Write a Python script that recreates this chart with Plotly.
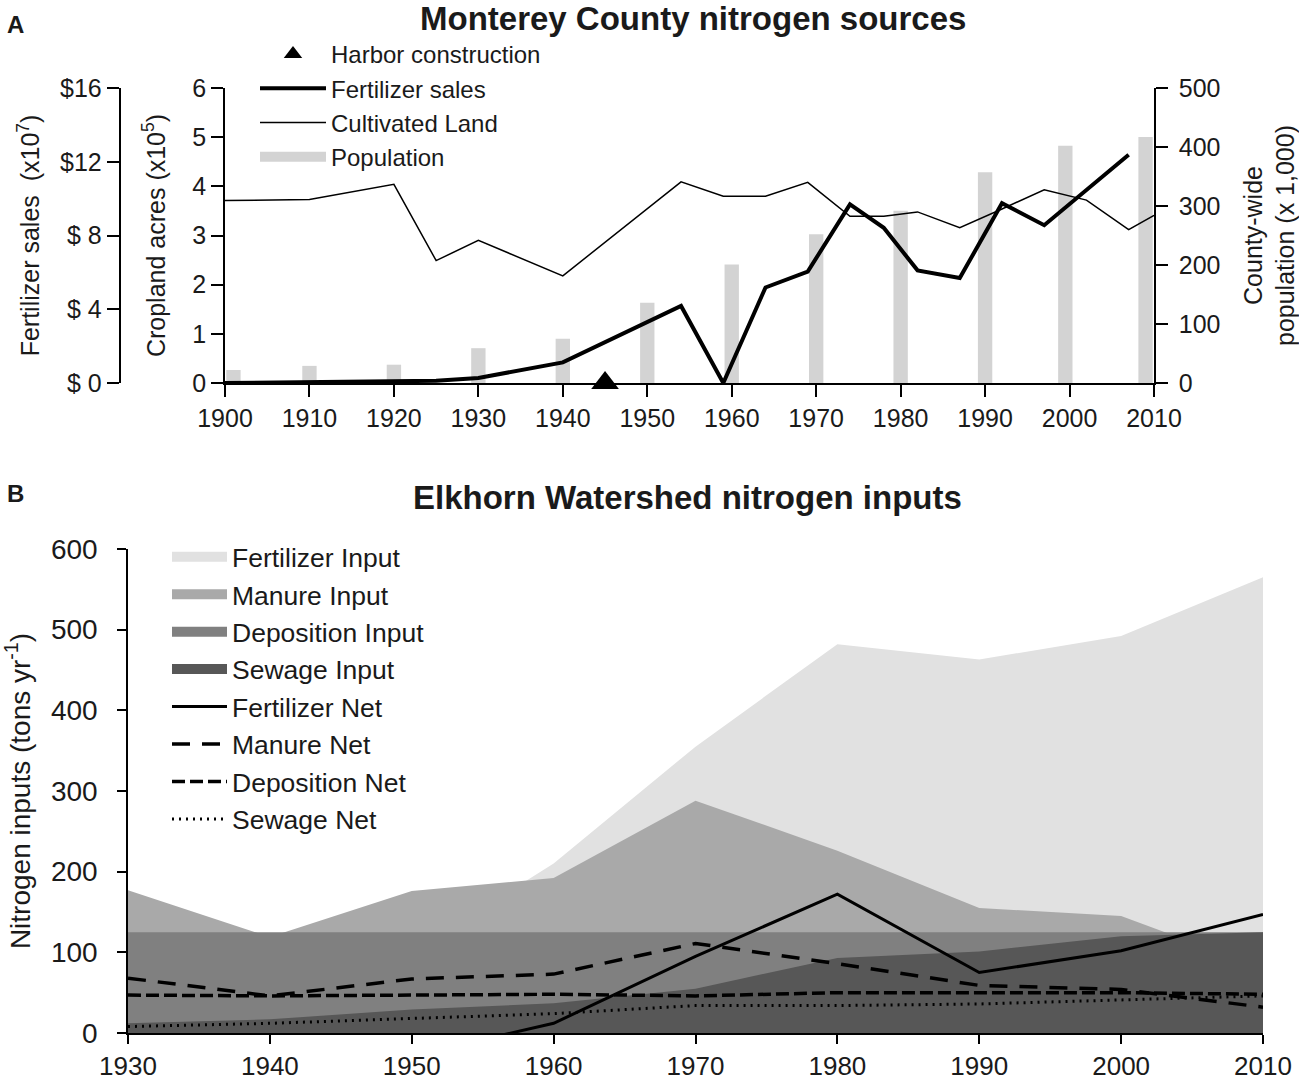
import plotly.graph_objects as go

# ---------------- panel A : Monterey County ----------------
pop_years = [1901, 1910, 1920, 1930, 1940, 1950, 1960, 1970, 1980, 1990, 1999.5, 2009]
population = [22, 29, 31, 59, 75, 136, 201, 252, 292, 357, 402, 417]  # x 1,000

crop_years = [1900, 1910, 1920, 1925, 1930, 1940, 1954, 1959, 1964, 1969, 1974,
              1978, 1982, 1987, 1992, 1997, 2002, 2007, 2010]
cropland = [3.71, 3.73, 4.04, 2.49, 2.90, 2.18, 4.09, 3.80, 3.80, 4.08, 3.39,
            3.39, 3.48, 3.16, 3.54, 3.93, 3.72, 3.12, 3.41]  # acres x 1e5

fert_years = [1900, 1910, 1920, 1925, 1930, 1940, 1954, 1959, 1964, 1969, 1974,
              1978, 1982, 1987, 1992, 1997, 2007]
fert_sales = [0.0, 0.05, 0.1, 0.12, 0.27, 1.12, 4.18, 0.0, 5.18, 6.04, 9.69,
              8.42, 6.11, 5.69, 9.75, 8.56, 12.38]  # $ x 1e7

harbor_year = [1945]
harbor_y = [0]

# ---------------- panel B : Elkhorn Watershed ----------------
years_b = [1930, 1940, 1950, 1960, 1970, 1980, 1990, 2000, 2010]
fert_input = [10, 30, 100, 210, 355, 482, 463, 492, 565]
manure_input = [177, 119, 176, 192, 288, 226, 155, 145, 80]
deposition_input = [125, 125, 125, 125, 125, 125, 125, 125, 125]
sewage_input = [12, 17, 29, 37, 55, 93, 101, 120, 125]
fert_net = [-60, -45, -28, 12, 95, 172, 75, 102, 147]
manure_net = [68, 46, 67, 73, 111, 86, 59, 54, 32]
deposition_net = [47, 46, 47, 48, 46, 50, 50, 50, 48]
sewage_net = [8, 12, 18, 24, 34, 34, 36, 41, 46]

FONT = "Liberation Sans, Arial, Helvetica, sans-serif"
INK = "#1a1a1a"
W, H = 1299, 1080

def px_x(p):
    return p / W

def px_y(p):
    return 1 - p / H

fig = go.Figure()

# population bars (base axis, drawn underneath)
fig.add_trace(go.Bar(x=pop_years, y=population, width=1.7,
                     marker=dict(color="#d3d3d3", line=dict(width=0)),
                     showlegend=False, xaxis="x", yaxis="y"))

fig.add_trace(go.Scatter(x=harbor_year, y=harbor_y, mode="markers", name="Harbor construction",
                         marker=dict(symbol="triangle-up", size=24, color="black"),
                         cliponaxis=False, xaxis="x", yaxis="y2",
                         legend="legend", legendgroup="a1"))
fig.add_trace(go.Scatter(x=fert_years, y=fert_sales, mode="lines", name="Fertilizer sales",
                         line=dict(color="black", width=4),
                         xaxis="x", yaxis="y3", legend="legend", legendgroup="a2"))
fig.add_trace(go.Scatter(x=crop_years, y=cropland, mode="lines", name="Cultivated Land",
                         line=dict(color="black", width=1.5),
                         xaxis="x", yaxis="y2", legend="legend", legendgroup="a3"))
# legend swatch for the population bars
fig.add_trace(go.Scatter(x=[None], y=[None], mode="lines", name="Population",
                         line=dict(color="#d3d3d3", width=15),
                         xaxis="x", yaxis="y", legend="legend", legendgroup="a4"))

# panel B areas (overlapping, each filled to zero)
areas = [("Fertilizer Input", fert_input, "#e1e1e1"),
         ("Manure Input", manure_input, "#a9a9a9"),
         ("Deposition Input", deposition_input, "#808080"),
         ("Sewage Input", sewage_input, "#575757")]
for i, (nm, vals, col) in enumerate(areas):
    fig.add_trace(go.Scatter(x=years_b, y=vals, mode="lines", fill="tozeroy",
                             fillcolor=col, line=dict(width=0, color=col),
                             showlegend=False, xaxis="x2", yaxis="y4"))
for i, (nm, vals, col) in enumerate(areas):
    fig.add_trace(go.Scatter(x=[None], y=[None], mode="lines", name=nm,
                             line=dict(color=col, width=10),
                             xaxis="x2", yaxis="y4", legend="legend2", legendgroup="b%d" % i))

nets = [("Fertilizer Net", fert_net, "solid", 3),
        ("Manure Net", manure_net, "18px,12px", 3.5),
        ("Deposition Net", deposition_net, "13px,5px", 3.5),
        ("Sewage Net", sewage_net, "2px,5px", 3)]
for i, (nm, vals, dash, w) in enumerate(nets):
    fig.add_trace(go.Scatter(x=years_b, y=vals, mode="lines", name=nm,
                             line=dict(color="black", width=w, dash=dash),
                             xaxis="x2", yaxis="y4", legend="legend2", legendgroup="n%d" % i))

axis_common = dict(showline=True, linecolor="black", linewidth=1.5, ticks="outside",
                   tickcolor="black", tickwidth=1.5, showgrid=False, zeroline=False,
                   automargin=False, tickfont=dict(size=25, color=INK))

fig.update_layout(
    width=W, height=H,
    margin=dict(l=0, r=0, t=0, b=0, autoexpand=False),
    paper_bgcolor="white", plot_bgcolor="white",
    font=dict(family=FONT, color=INK),
    barmode="overlay",
    xaxis=dict(axis_common, domain=[px_x(225), px_x(1154)], range=[1900, 2010],
               tickvals=list(range(1900, 2011, 10)), ticklen=12, anchor="y"),
    yaxis=dict(axis_common, domain=[px_y(383), px_y(88)], range=[0, 500], side="right",
               tickvals=list(range(0, 501, 100)), ticklen=12, anchor="x", ticklabelstandoff=6,
               title=dict(text="County-wide<br>population (x 1,000)", font=dict(size=25), standoff=30)),
    yaxis2=dict(axis_common, range=[0, 6], overlaying="y", side="left", anchor="x",
                tickvals=list(range(0, 7)), ticklen=12,
                title=dict(text="Cropland acres (x10<sup>5</sup>)", font=dict(size=25), standoff=20)),
    yaxis3=dict(axis_common, range=[0, 16], overlaying="y", side="left", anchor="free",
                position=px_x(119.5), tickvals=[0, 4, 8, 12, 16],
                ticktext=["$ 0", "$ 4", "$ 8", "$12", "$16"], ticklen=12,
                title=dict(text="Fertilizer sales  (x10<sup>7</sup>)", font=dict(size=25), standoff=12)),
    xaxis2=dict(axis_common, domain=[px_x(128), px_x(1263)], range=[1930, 2010],
                tickvals=list(range(1930, 2011, 10)), ticklen=9, anchor="y4",
                tickfont=dict(size=26, color=INK)),
    yaxis4=dict(axis_common, domain=[px_y(1033), px_y(549)], range=[0, 600],
                tickvals=list(range(0, 601, 100)), ticklen=9, anchor="x2", ticklabelstandoff=14,
                tickfont=dict(size=28, color=INK),
                title=dict(text="Nitrogen inputs (tons yr<sup>-1</sup>)", font=dict(size=28), standoff=14)),
    legend=dict(x=px_x(255), y=px_y(32), xanchor="left", yanchor="top",
                bgcolor="rgba(0,0,0,0)", font=dict(size=24), itemwidth=66,
                tracegroupgap=0, traceorder="normal"),
    legend2=dict(x=px_x(167), y=px_y(533), xanchor="left", yanchor="top",
                 bgcolor="rgba(0,0,0,0)", font=dict(size=26.5), itemwidth=55,
                 tracegroupgap=2, traceorder="normal"),
    annotations=[
        dict(text="<b>Monterey County nitrogen sources</b>", x=px_x(693), y=px_y(18),
             xref="paper", yref="paper", xanchor="center", yanchor="middle",
             showarrow=False, font=dict(size=33)),
        dict(text="<b>Elkhorn Watershed nitrogen inputs</b>", x=px_x(687), y=px_y(497),
             xref="paper", yref="paper", xanchor="center", yanchor="middle",
             showarrow=False, font=dict(size=33)),
        dict(text="<b>A</b>", x=px_x(16), y=px_y(25), xref="paper", yref="paper",
             xanchor="center", yanchor="middle", showarrow=False, font=dict(size=24)),
        dict(text="<b>B</b>", x=px_x(16), y=px_y(493), xref="paper", yref="paper",
             xanchor="center", yanchor="middle", showarrow=False, font=dict(size=24)),
    ],
)

fig.write_html("out.html", config={"displayModeBar": False},
               post_script="document.body.style.margin='0px';")
